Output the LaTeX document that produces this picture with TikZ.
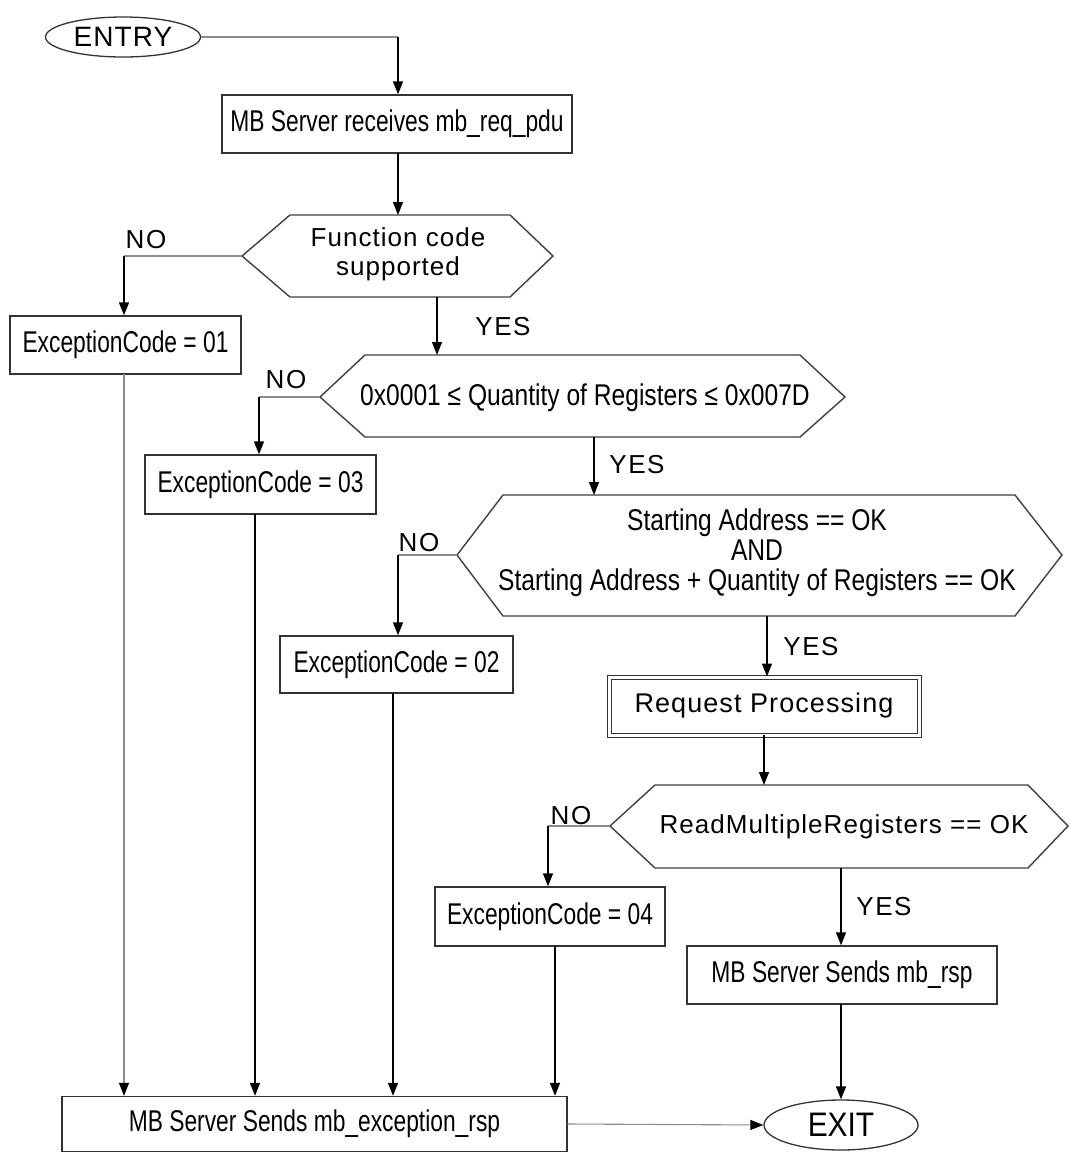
\documentclass[tikz,border=0pt]{standalone}
\usepackage{fontspec}
\setmainfont{Liberation Sans}
\newfontfamily\narrowfont[FakeStretch=0.76]{Liberation Sans}
\newfontfamily\midfont[FakeStretch=0.82]{Liberation Sans}
\newfontfamily\exitfont[FakeStretch=0.88]{Liberation Sans}
\newfontfamily\widefont[LetterSpace=4]{Liberation Sans}
\newfontfamily\lblfont[LetterSpace=6]{Liberation Sans}
\usetikzlibrary{shapes.geometric,arrows.meta}
\begin{document}
\begin{tikzpicture}[x=1pt,y=-1pt,
  box/.style={draw=black!80,line width=1.4pt,rectangle,inner sep=0pt,
    font=\narrowfont\fontsize{30}{34}\selectfont},
  oval/.style={draw=black!80,line width=1.3pt,ellipse,inner sep=0pt},
  hexline/.style={draw=black!75,line width=1.4pt,line join=miter},
  hextext/.style={inner sep=0pt,align=center},
  widetxt/.style={font=\widefont\fontsize{26}{29}\selectfont},
  midtxt/.style={font=\midfont\fontsize{30}{30}\selectfont},
  lbl/.style={inner sep=0pt,font=\lblfont\fontsize{26}{28}\selectfont},
  arr/.style={draw=black,line width=1.4pt,-{Triangle[length=13pt,width=10pt]}},
  glin/.style={draw=black!45,line width=1.1pt},
  garr/.style={draw=black!45,line width=1.1pt,-{Triangle[length=13pt,width=10pt,color=black]}}
]
\useasboundingbox (0,0) rectangle (1070,1152);
\fill[white] (0,0) rectangle (1070,1152);

% nodes
\node[oval,minimum width=155pt,minimum height=40pt,font=\widefont\fontsize{28}{30}\selectfont] (entry) at (123,37) {ENTRY};
\node[box,minimum width=350pt,minimum height=58pt] (recv) at (397,124) {MB Server receives mb\_req\_pdu};

% hexagon 1
\coordinate (h1W) at (242,256); \coordinate (h1NW) at (290,215); \coordinate (h1NE) at (510,215);
\coordinate (h1E) at (553,256); \coordinate (h1SE) at (510,297); \coordinate (h1SW) at (290,297);
\draw[hexline] (h1W) -- (h1NW) -- (h1NE) -- (h1E) -- (h1SE) -- (h1SW) -- cycle;
\node[hextext,widetxt] (hex1) at (398,254) {Function code\\supported};

\node[box,minimum width=231pt,minimum height=58pt] (exc1) at (125.5,345) {ExceptionCode = 01};

% hexagon 2
\coordinate (h2W) at (320,397); \coordinate (h2NW) at (365,355); \coordinate (h2NE) at (800,355);
\coordinate (h2E) at (845,397); \coordinate (h2SE) at (800,437); \coordinate (h2SW) at (365,437);
\draw[hexline] (h2W) -- (h2NW) -- (h2NE) -- (h2E) -- (h2SE) -- (h2SW) -- cycle;
\node[hextext,midtxt] (hex2) at (585,398) {0x0001 ≤ Quantity of Registers ≤ 0x007D};

\node[box,minimum width=231pt,minimum height=59pt] (exc3) at (260.5,484.5) {ExceptionCode = 03};

% hexagon 3
\coordinate (h3W) at (457,555); \coordinate (h3NW) at (503,495); \coordinate (h3NE) at (1015,495);
\coordinate (h3E) at (1062,555); \coordinate (h3SE) at (1015,616); \coordinate (h3SW) at (503,616);
\draw[hexline] (h3W) -- (h3NW) -- (h3NE) -- (h3E) -- (h3SE) -- (h3SW) -- cycle;
\node[hextext,midtxt] (hex3) at (757,553)
  {Starting Address == OK\\AND\\Starting Address + Quantity of Registers == OK};

\node[box,minimum width=233pt,minimum height=57pt] (exc2) at (396.5,664.5) {ExceptionCode = 02};

\node[box,minimum width=310pt,minimum height=58pt,double,double distance=3pt,line width=1pt,
  font=\widefont\fontsize{27}{30}\selectfont] (proc) at (764,706) {Request Processing};

% hexagon 4
\coordinate (h4W) at (610,826); \coordinate (h4NW) at (655,785); \coordinate (h4NE) at (1028,785);
\coordinate (h4E) at (1068,826); \coordinate (h4SE) at (1028,868); \coordinate (h4SW) at (655,868);
\draw[hexline] (h4W) -- (h4NW) -- (h4NE) -- (h4E) -- (h4SE) -- (h4SW) -- cycle;
\node[hextext,widetxt] (hex4) at (844,827) {ReadMultipleRegisters == OK};

\node[box,minimum width=230pt,minimum height=59pt] (exc4) at (550,916.5) {ExceptionCode = 04};
\node[box,minimum width=310pt,minimum height=58pt] (rsp) at (842,975) {MB Server Sends mb\_rsp};
\node[oval,minimum width=154pt,minimum height=50pt,font=\exitfont\fontsize{34}{36}\selectfont] (exit) at (841,1125) {EXIT};
\node[box,minimum width=505pt,minimum height=55pt] (excrsp) at (314.5,1124) {MB Server Sends mb\_exception\_rsp};

% connectors
\coordinate (c0) at (398,37);
\draw[glin] (entry.east) -- (c0);
\draw[arr] (c0) -- (c0 |- recv.north);
\coordinate (c1) at (398,153);
\draw[arr] (c1) -- (c1 |- h1NW);

% hex1 NO / YES
\coordinate (n1) at (124,256);
\draw[glin] (h1W) -- (n1);
\draw[arr] (n1) -- (n1 |- exc1.north);
\coordinate (y1) at (437,297);
\draw[arr] (y1) -- (y1 |- h2NW);

% hex2
\coordinate (n2) at (259,397);
\draw[glin] (h2W) -- (n2);
\draw[arr] (n2) -- (n2 |- exc3.north);
\coordinate (y2) at (594,437);
\draw[arr] (y2) -- (y2 |- h3NW);

% hex3
\coordinate (n3) at (398,555);
\draw[glin] (h3W) -- (n3);
\draw[arr] (n3) -- (n3 |- exc2.north);
\coordinate (y3) at (767,616);
\draw[arr] (y3) -- (y3 |- proc.north);

% proc -> hex4
\coordinate (p1) at (764,735);
\draw[arr] (p1) -- (p1 |- h4NW);

% hex4
\coordinate (n4) at (548,826);
\draw[glin] (h4W) -- (n4);
\draw[arr] (n4) -- (n4 |- exc4.north);
\coordinate (y4) at (841,868);
\draw[arr] (y4) -- (y4 |- rsp.north);

% to exits
\coordinate (r1) at (841,1004);
\draw[arr] (r1) -- (r1 |- exit.north);
\coordinate (e1) at (124,374);
\draw[garr] (e1) -- (e1 |- excrsp.north);
\coordinate (e3) at (255,514);
\draw[arr] (e3) -- (e3 |- excrsp.north);
\coordinate (e2) at (393,693);
\draw[arr] (e2) -- (e2 |- excrsp.north);
\coordinate (e4) at (555,946);
\draw[arr] (e4) -- (e4 |- excrsp.north);
\draw[garr] (excrsp.east) -- (exit.west);

% labels
\node[lbl] (lno1) at (146,240) {NO};
\node[lbl] (lyes1) at (503,327) {YES};
\node[lbl] (lno2) at (286,380) {NO};
\node[lbl] (lyes2) at (637,465) {YES};
\node[lbl] (lno3) at (419,543) {NO};
\node[lbl] (lyes3) at (811,647) {YES};
\node[lbl] (lno4) at (571,816) {NO};
\node[lbl] (lyes4) at (884,907) {YES};
\end{tikzpicture}
\end{document}
